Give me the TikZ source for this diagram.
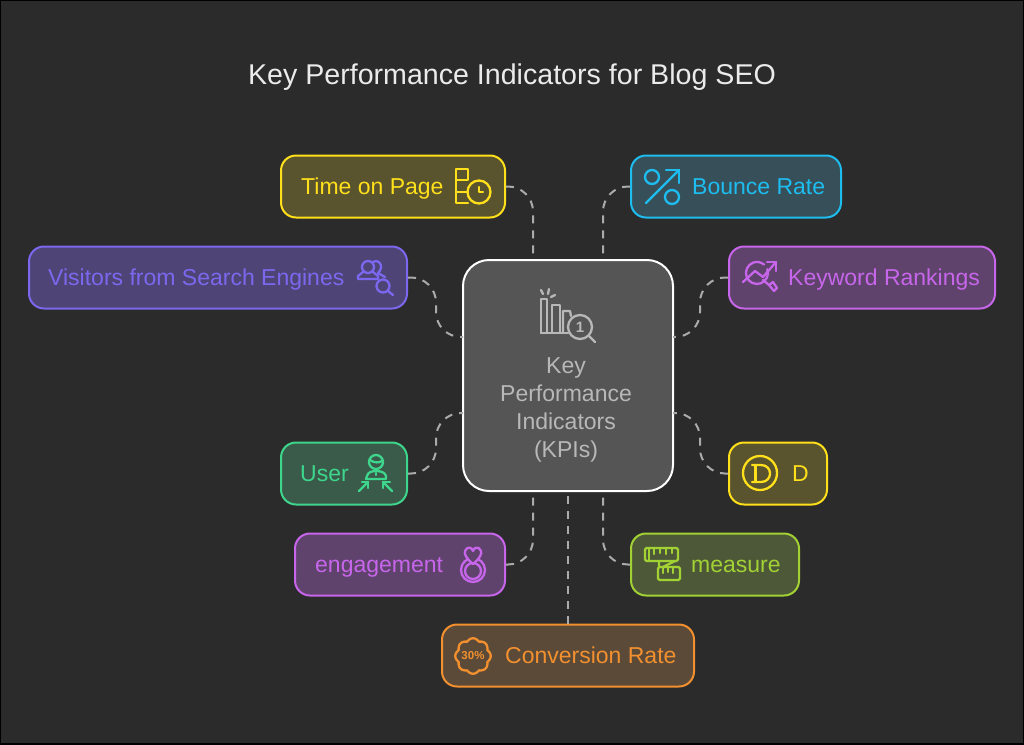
\documentclass[tikz,border=0pt]{standalone}
\usepackage{fontspec}
\setmainfont{Liberation Sans}
\definecolor{bgdark}{HTML}{2B2B2B}
\definecolor{gold}{HTML}{FFE01B}
\definecolor{goldfill}{HTML}{59532E}
\definecolor{sky}{HTML}{1EBDF0}
\definecolor{skyfill}{HTML}{374F59}
\definecolor{violet}{HTML}{7B68EE}
\definecolor{violetfill}{HTML}{4E4576}
\definecolor{orchid}{HTML}{C766EA}
\definecolor{orchidfill}{HTML}{5F436C}
\definecolor{mint}{HTML}{3DD68C}
\definecolor{mintfill}{HTML}{3A5A4A}
\definecolor{lime}{HTML}{A2D134}
\definecolor{limefill}{HTML}{4D5838}
\definecolor{amber}{HTML}{F2902F}
\definecolor{amberfill}{HTML}{5B4A38}
\definecolor{linkgray}{HTML}{ABABAB}
\definecolor{kpifill}{HTML}{555555}
\definecolor{kpitext}{HTML}{B8B8B8}
\tikzset{
  tile/.style={draw=#1, fill=#1fill, line width=2pt, rounded corners=15pt, minimum height=62pt, inner sep=0pt},
  tiletext/.style={text=#1, anchor=base west, inner sep=0pt, font=\fontsize{23}{26}\selectfont},
  icon/.style={draw=#1, line width=2.3pt, line cap=round, line join=round},
  link/.style={draw=linkgray, line width=2pt, dash pattern=on 8pt off 7pt, rounded corners=25pt}
}

\begin{document}
\begin{tikzpicture}[x=1pt, y=-1pt]
  \useasboundingbox (0,0) rectangle (1024,744);
  \fill[bgdark] (0,0) rectangle (1024,744);
  \draw[black, line width=2pt] (0,0) rectangle (1024,744);

  % Title
  \node[text=white!92!black, font=\fontsize{28.6}{32}\selectfont] (title) at (512,77.5) {Key Performance Indicators for Blog SEO};

  % Centre box
  \node[draw=white, fill=kpifill, line width=2pt, rounded corners=26pt, minimum width=210pt, minimum height=231pt] (kpi) at (568,375.5) {};
  \node[text=kpitext, align=center, font=\fontsize{23}{28}\selectfont] (kpilabel) at (566,409.5) {Key\\Performance\\Indicators\\(KPIs)};

  % Tiles
  \node[tile=gold, minimum width=224pt] (time) at (393,186.5) {};
  \node[tile=sky, minimum width=210pt] (bounce) at (736,186.5) {};
  \node[tile=violet, minimum width=378pt] (visitors) at (218,277.5) {};
  \node[tile=orchid, minimum width=266pt] (keyword) at (862,277.5) {};
  \node[tile=mint, minimum width=126pt] (user) at (344,473.5) {};
  \node[tile=gold, minimum width=98pt] (dee) at (778,473.5) {};
  \node[tile=orchid, minimum width=210pt] (engage) at (400,564.5) {};
  \node[tile=lime, minimum width=168pt] (measure) at (715,564.5) {};
  \node[tile=amber, minimum width=252pt] (convert) at (568,655.5) {};

  % Tile labels
  \node[tiletext=gold] (timetext) at (301,194) {Time on Page};
  \node[tiletext=sky] (bouncetext) at (692,194) {Bounce Rate};
  \node[tiletext=violet] (visitorstext) at (48,285) {Visitors from Search Engines};
  \node[tiletext=orchid] (keywordtext) at (788,285) {Keyword Rankings};
  \node[tiletext=mint] (usertext) at (300,481) {User};
  \node[tiletext=gold] (deetext) at (792,481) {D};
  \node[tiletext=orchid] (engagetext) at (315,572) {engagement};
  \node[tiletext=lime] (measuretext) at (691,572) {measure};
  \node[tiletext=amber] (converttext) at (505,663) {Conversion Rate};

  % Ends of the links on the centre box
  \coordinate (kpiN1) at (533,260);
  \coordinate (kpiN2) at (603,260);
  \coordinate (kpiW1) at (463,337);
  \coordinate (kpiW2) at (463,413);
  \coordinate (kpiE1) at (673,337);
  \coordinate (kpiE2) at (673,413);
  \coordinate (kpiS1) at (533,491);
  \coordinate (kpiS2) at (568,491);
  \coordinate (kpiS3) at (603,491);

  % Links
  \draw[link] (time.east) -| (kpiN1);
  \draw[link] (bounce.west) -| (kpiN2);
  \draw[link] (visitors.east) -- ++(28,0) |- (kpiW1);
  \draw[link] (keyword.west) -- ++(-28,0) |- (kpiE1);
  \draw[link] (user.east) -- ++(28,0) |- (kpiW2);
  \draw[link] (dee.west) -- ++(-28,0) |- (kpiE2);
  \draw[link] (engage.east) -| (kpiS1);
  \draw[link] (measure.west) -| (kpiS3);
  \draw[link] (convert.north) -- (kpiS2);

  % Centre icon
  \draw[icon=kpitext] (541,333) -- (541,299) -- (547,299) -- (547,333);
  \draw[icon=kpitext] (552,333) -- (552,305) -- (560,305) -- (560,333);
  \draw[icon=kpitext] (563,333) -- (563,311) -- (570,311) -- (571,316);
  \draw[icon=kpitext] (541,333) -- (568,333);
  \draw[icon=kpitext] (541,290) -- (543,294) (549,289) -- (548,294) (555,295) -- (551,297);
  \draw[icon=kpitext] (580,327) circle (12);
  \draw[icon=kpitext] (589,336) -- (595,342);
  \node[text=kpitext, font=\bfseries\fontsize{15}{15}\selectfont, inner sep=0pt] (kpione) at (580,327) {1};

  % Time on Page icon
  \draw[icon=gold] (456,169) rectangle (468,180);
  \draw[icon=gold] (468,192) -- (456,192) (456,180) -- (456,203) -- (468,203);
  \draw[icon=gold] (479,192) circle (11.5);
  \draw[icon=gold] (479,187) -- (479,192) -- (483,192);

  % Bounce Rate icon
  \draw[icon=sky] (652,177) circle (7);
  \draw[icon=sky] (672,197) circle (7);
  \draw[icon=sky] (646,203) -- (679,170);
  \draw[icon=sky] (666,170) -- (679,170) -- (679,183);

  % Visitors icon
  \draw[icon=violet] (368,267) circle (6);
  \draw[icon=violet] (373,262) .. controls (377,259) and (382,263) .. (381,268) .. controls (380,271) and (379,272) .. (378,273) -- (385,277);
  \draw[icon=violet] (363,272) -- (358,276) -- (358,279) -- (378,279) -- (378,276) -- (373,272);
  \draw[icon=violet] (383,286) circle (6.5);
  \draw[icon=violet] (388,291) -- (393,295);

  % Keyword Rankings icon
  \draw[icon=orchid] (767.3,269.2) arc (-20:310:11);
  \draw[icon=orchid] (743,282) -- (755,271) -- (763,277) -- (776,262);
  \draw[icon=orchid] (767,262) -- (776,262) -- (776,271);
  \draw[icon=orchid] (763,280) -- (769,285);
  \draw[icon=orchid] (769,285) -- (773,282) -- (777,288) -- (774,291) -- cycle;

  % User icon
  \draw[icon=mint] (376,462) circle (7);
  \draw[icon=mint] (370,460) .. controls (374,463) and (379,463) .. (382,461);
  \draw[icon=mint] (366,479) -- (367,476) .. controls (368,472) and (372,471) .. (376,471) .. controls (380,471) and (385,472) .. (386,476) -- (386,479) -- cycle;
  \draw[icon=mint] (376,473) -- (376,475);
  \draw[icon=mint] (359,491) -- (368,482);
  \draw[icon=mint] (362,482) -- (368,482) -- (368,488);
  \draw[icon=mint] (392,491) -- (383,482);
  \draw[icon=mint] (390,482) -- (383,482) -- (383,488);

  % D icon
  \draw[icon=gold] (760,473) circle (17);
  \draw[icon=gold] (752,465) -- (761,465) .. controls (773,465) and (773,482) .. (761,482) -- (752,482);
  \draw[icon=gold] (755.5,465) -- (755.5,482);

  % Engagement icon
  \draw[icon=orchid] (473,570) circle (12);
  \draw[icon=orchid] (473,571) circle (8);
  \draw[icon=orchid, fill=orchidfill] (473,564) .. controls (466,558) and (464,554) .. (465,551) .. controls (467,546) and (472,547) .. (473,551) .. controls (474,547) and (479,546) .. (481,551) .. controls (482,554) and (480,558) .. (473,564) -- cycle;

  % Measure icon
  \draw[icon=lime, rounded corners=1.5pt] (645,548) rectangle (678,561);
  \draw[icon=lime] (649,548) -- (649,561);
  \draw[icon=lime] (654,549) -- (654,554) (660,549) -- (660,553) (666,549) -- (666,554) (672,549) -- (672,553);
  \draw[icon=lime] (659,561) -- (659,567) (675,561) -- (663,567);
  \draw[icon=lime, rounded corners=1.5pt] (658,567) rectangle (680,580);
  \draw[icon=lime] (663,568) -- (663,573) (668,568) -- (668,572) (673,568) -- (673,573);

  % Conversion Rate icon
  \draw[icon=amber] plot[domain=0:360, samples=145, smooth] ({473+(15.5+2.2*abs(cos(4*\x)))*cos(\x)}, {656+(15.5+2.2*abs(cos(4*\x)))*sin(\x)}) -- cycle;
  \node[text=amber, font=\bfseries\fontsize{11.5}{11.5}\selectfont, inner sep=0pt] (thirty) at (473,656) {30\%};
\end{tikzpicture}
\end{document}
